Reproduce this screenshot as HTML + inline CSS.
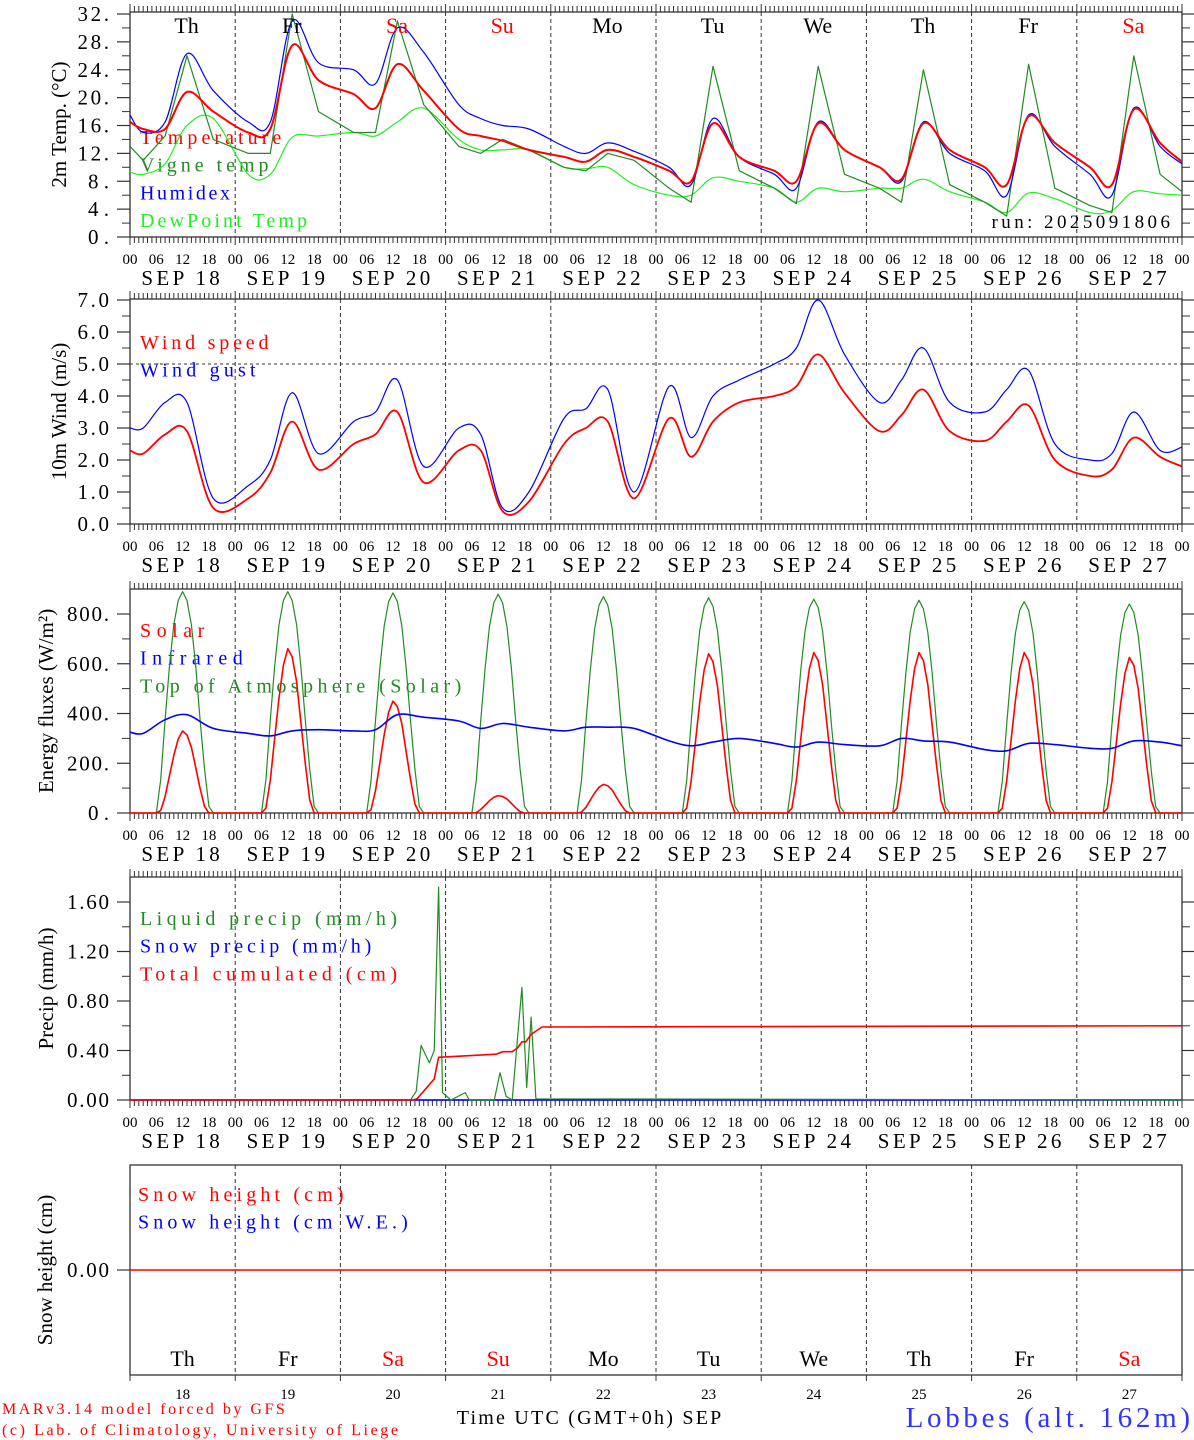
<!DOCTYPE html>
<html><head><meta charset="utf-8"><style>
html,body{margin:0;padding:0;background:#fff;}
svg{display:block;font-family:"Liberation Serif","DejaVu Serif",serif;}
</style></head><body>
<svg id="chart" width="1194" height="1440" viewBox="0 0 1194 1440" xmlns="http://www.w3.org/2000/svg"></svg>
<script>
// ---------- data ----------
const dayNames = ["Th","Fr","Sa","Su","Mo","Tu","We","Th","Fr","Sa"];
const dayColors = ["#000","#000","#f00","#f00","#000","#000","#000","#000","#000","#f00"];
const dates = ["18","19","20","21","22","23","24","25","26","27"];
const hourTicks = ["00","06","12","18"];
const sampleHours = [3,8,13,19];
// temperature panel (start value, 4 samples/day, end value)
const tempVals = [16.5, 15.5,15.5,20.8,18, 15,15.5,27.5,22.5, 20.5,18.5,24.8,21, 15.5,14.5,13.8,12.5, 11.5,10.8,12.5,11.5, 9.5,8,16.3,11.5, 9.5,8,16.3,12.5, 10,8.3,16.3,12.5, 10,7.5,17.3,13.5, 10,7.5,18.3,13.5, 10.8];
const humidexVals = [17.5, 15,16.5,26.3,21, 16.5,16.5,31,25, 24,22,30,26.5, 19,17,16,15.5, 13,12,13.5,12.3, 10,7.5,17,11.5, 9,7,16.5,12.5, 10,8,16.5,12, 9.5,6,17.5,13, 9,6,18.5,13, 10.5];
const vigneVals = [13, 11,14.5,26,14, 12,12,32,18, 15,15,31,19, 13,12,14,12.5, 10,9.5,12,11, 7,5,24.5,9.5, 7,4.8,24.5,9, 7,5,24,7.5, 5,3,24.8,7, 4.5,3.5,26,9, 6.5];
const dewVals = [9.3, 9,10.5,16,17, 9,9,14.3,14.5, 15,14.5,16.5,18.5, 14,12.5,12.5,12.5, 10,9.8,10,7.5, 6,6,8.5,8, 7,5,7,6.5, 7,7,8.3,6.5, 5,3.5,6.3,5.5, 3.5,3.8,6.5,6.2, 6];
// wind panel
const windVals = [2.3, 2.2,2.8,2.9,0.5, 0.8,1.6,3.2,1.7, 2.5,2.8,3.5,1.3, 2.3,2.3,0.4,0.7, 2.5,3.0,3.2,0.8, 3.3,2.1,3.2,3.8, 4.0,4.3,5.3,4.1, 2.9,3.4,4.2,2.9, 2.6,3.2,3.7,2.0, 1.5,1.7,2.7,2.1, 1.8];
const gustVals = [3.0, 3.0,3.8,3.8,0.8, 1.2,2.0,4.1,2.2, 3.2,3.5,4.5,1.8, 3.0,2.8,0.5,1.0, 3.3,3.6,4.2,1.0, 4.3,2.7,4.0,4.5, 5.0,5.5,7.0,5.3, 3.8,4.5,5.5,3.8, 3.5,4.2,4.8,2.5, 2.0,2.2,3.5,2.3, 2.4];
// energy panel
const toaPeaks = [890,890,885,880,870,865,860,855,850,840];
const solarPeaks = [330,660,450,70,115,640,645,645,645,625];
const dayProfileHours = [6,7,8,9,10,11,12,13,14,15,16,17,18,19];
const toaProfile = [0,0.15,0.42,0.66,0.85,0.96,1.0,0.96,0.85,0.66,0.42,0.2,0.03,0];
const solarProfile = [0,0.03,0.2,0.45,0.7,0.9,1.0,0.95,0.8,0.55,0.3,0.08,0,0];
const irVals = [325, 320,375,395,340, 320,310,330,335, 330,335,395,385, 370,340,360,345, 330,345,345,340, 290,270,285,300, 280,265,285,275, 270,300,290,285, 255,250,280,275, 260,260,290,285, 270];
// precip panel
const liquidHours = [0,64,65.3,66.4,68.3,69.4,70.4,71.3,73.2,76.5,77.4,83.1,84.4,85.8,87.2,89.4,90.5,91.5,92.6,240];
const liquidVals  = [0,0,0.07,0.44,0.30,0.40,1.72,0.06,0,0.06,0,0,0.22,0.03,0,0.91,0.10,0.67,0.01,0];
const cumHours = [0,64.5,65.5,69.4,70.4,83.5,85,87.2,88.4,89.4,90.3,91.5,94,240];
const cumVals  = [0,0,0.01,0.17,0.345,0.37,0.39,0.39,0.42,0.47,0.47,0.53,0.59,0.60];
// snow
const snowVals = [0,0];

// ---------- helpers ----------
const svg = document.getElementById('chart');
const NS = "http://www.w3.org/2000/svg";
const X0 = 130, X1 = 1182;
function xH(h){ return X0 + h*(X1-X0)/240; }
function mk(tag, attrs, parent){
  const e = document.createElementNS(NS, tag);
  for (const k in attrs) e.setAttribute(k, attrs[k]);
  (parent||svg).appendChild(e);
  return e;
}
function txt(s, x, y, size, fill, anchor, parent, cw){
  const t = mk('text', {x:x, y:y, 'font-size':size, fill:fill||'#000', 'text-anchor':anchor||'start'}, parent);
  t.textContent = s;
  if(cw){ t.setAttribute('textLength', (s.length*cw).toFixed(1)); t.setAttribute('lengthAdjust','spacing'); }
  return t;
}
function sampleTimes(){
  const t=[0];
  for(let d=0; d<10; d++) for(const h of sampleHours) t.push(d*24+h);
  t.push(240);
  return t;
}
const ST = sampleTimes();
function poly(times, vals, yf, color, width, name, parent, smooth){
  const P = times.map((h,i)=>[xH(h), yf(vals[i])]);
  let d;
  if(smooth){
    d = 'M'+P[0][0].toFixed(1)+','+P[0][1].toFixed(1);
    for(let i=0;i<P.length-1;i++){
      const p0=P[Math.max(0,i-1)], p1=P[i], p2=P[i+1], p3=P[Math.min(P.length-1,i+2)];
      const c1=[p1[0]+(p2[0]-p0[0])/6, p1[1]+(p2[1]-p0[1])/6];
      const c2=[p2[0]-(p3[0]-p1[0])/6, p2[1]-(p3[1]-p1[1])/6];
      d += ' C'+c1[0].toFixed(1)+','+c1[1].toFixed(1)+' '+c2[0].toFixed(1)+','+c2[1].toFixed(1)+' '+p2[0].toFixed(1)+','+p2[1].toFixed(1);
    }
  } else {
    d = 'M'+P.map(p=>p[0].toFixed(1)+','+p[1].toFixed(1)).join(' L');
  }
  const p = mk('path', {d:d, fill:'none', stroke:color, 'stroke-width':width, 'stroke-linejoin':'round'}, parent);
  
  
  return p;
}

function panel(cfg){
  const g = mk('g', {});
  
  
  const top = cfg.top, bot = cfg.bot;
  const yf = v => cfg.y0 - (v - cfg.vmin) * cfg.scale;
  mk('rect', {x:X0, y:top, width:X1-X0, height:bot-top, fill:'none', stroke:'#333', 'stroke-width':1.3}, g);
  for(let h=0; h<=240; h++){
    const x = xH(h).toFixed(1);
    const big = h%24===0;
    const len = cfg.noHourTicks ? (big?6:0) : (big?8:6);
    if(!len) continue;
    if(!cfg.noTopTicks) mk('line', {x1:x, y1:top, x2:x, y2:top-len, stroke:'#333', 'stroke-width':1}, g);
    mk('line', {x1:x, y1:bot, x2:x, y2:bot+len, stroke:'#333', 'stroke-width':1}, g);
  }
  for(let d=1; d<10; d++){
    const x = xH(d*24).toFixed(1);
    mk('line', {x1:x, y1:top, x2:x, y2:bot, stroke:'#333', 'stroke-width':1, 'stroke-dasharray':'4,3'}, g);
  }
  for(const v of cfg.minor){
    const y = yf(v).toFixed(1);
    mk('line', {x1:X0, y1:y, x2:X0-8, y2:y, stroke:'#333', 'stroke-width':1}, g);
    mk('line', {x1:X1, y1:y, x2:X1+8, y2:y, stroke:'#333', 'stroke-width':1}, g);
  }
  cfg.labels.forEach((v,i)=>{
    const y = yf(v);
    mk('line', {x1:X0, y1:y, x2:X0-13, y2:y, stroke:'#333', 'stroke-width':1.2}, g);
    mk('line', {x1:X1, y1:y, x2:X1+13, y2:y, stroke:'#333', 'stroke-width':1.2}, g);
    txt(cfg.labelText[i], 109, y+7, 21, '#000', 'end', g, 10.5);
  });
  const t = txt(cfg.title, 0, 0, 21, '#000', 'middle', g);
  t.setAttribute('transform', 'translate('+cfg.titleX+','+((top+bot)/2)+') rotate(-90)');
  
  
  if(cfg.xlabels){
    for(let d=0; d<10; d++){
      hourTicks.forEach((s,k)=>{
        txt(s, xH(d*24+k*6), bot+27, 15, '#000', 'middle', g);
      });
      txt('SEP  '+dates[d], xH(d*24+12)-2, bot+48, 21, '#000', 'middle', g, 11.2);
    }
    txt('00', xH(240), bot+27, 15, '#000', 'middle', g);
  }
  cfg.legend.forEach((l,i)=>{
    const e = txt(l[0], cfg.legX||140, cfg.legY + i*27.7, 20, l[1], 'start', g, 12.85);
    
    
  });
  return {g, yf};
}

// ---------- panel 1: temperature ----------
const p1 = panel({name:'temperature-panel', top:12, bot:237, y0:237, vmin:0, scale:(237-14)/32,
  minor:[2,6,10,14,18,22,26,30], labels:[0,4,8,12,16,20,24,28,32],
  labelText:["0.","4.","8.","12.","16.","20.","24.","28.","32."],
  title:"2m Temp. (°C)", titleX:66, xlabels:true,
  legend:[["Temperature","#f00"],["Vigne temp","#228b22"],["Humidex","#00f"],["DewPoint Temp","#2e2"]], legY:144});
{
  const clip = mk('clipPath', {id:'c1'}); mk('rect', {x:X0, y:12, width:X1-X0, height:225}, clip);
  const g = mk('g', {'clip-path':'url(#c1)'}, p1.g);
  poly(ST, dewVals, p1.yf, '#2e2', 1.2, 'dewpoint-line', g, true);
  poly(ST, vigneVals, p1.yf, '#228b22', 1.2, 'vigne-temp-line', g, false);
  poly(ST, humidexVals, p1.yf, '#00f', 1.2, 'humidex-line', g, true);
  poly(ST, tempVals, p1.yf, '#f00', 2, 'temperature-line', g, true);
  for(let d=0; d<10; d++){
    const e = txt(dayNames[d], xH(d*24+12)+4, 33, 22, dayColors[d], 'middle', p1.g);
    
    
  }
  const r = txt('run: 2025091806', 1170, 228, 19, '#000', 'end', p1.g, 11.9);
  
  
}

// ---------- panel 2: wind ----------
const p2 = panel({name:'wind-panel', top:299, bot:524, y0:524, vmin:0, scale:(524-300)/7,
  minor:[0.5,1.5,2.5,3.5,4.5,5.5,6.5], labels:[0,1,2,3,4,5,6,7],
  labelText:["0.0","1.0","2.0","3.0","4.0","5.0","6.0","7.0"],
  title:"10m Wind (m/s)", titleX:66, xlabels:true,
  legend:[["Wind speed","#f00"],["Wind gust","#00f"]], legY:349});
{
  const y5 = p2.yf(5);
  mk('line', {x1:X0, y1:y5, x2:X1, y2:y5, stroke:'#333', 'stroke-width':1, 'stroke-dasharray':'3,3'}, p2.g);
  poly(ST, gustVals, p2.yf, '#00f', 1.2, 'wind-gust-line', p2.g, true);
  poly(ST, windVals, p2.yf, '#f00', 1.8, 'wind-speed-line', p2.g, true);
}

// ---------- panel 3: energy ----------
const p3 = panel({name:'energy-panel', top:589, bot:813, y0:813, vmin:0, scale:(813-614)/800,
  minor:[100,300,500,700], labels:[0,200,400,600,800],
  labelText:["0.","200.","400.","600.","800."],
  title:"Energy fluxes (W/m²)", titleX:53, xlabels:true,
  legend:[["Solar","#f00"],["Infrared","#00f"],["Top of Atmosphere (Solar)","#228b22"]], legY:637});
{
  const th=[0], toa=[0], sol=[0];
  for(let d=0; d<10; d++){
    dayProfileHours.forEach((h,k)=>{ th.push(d*24+h); toa.push(toaPeaks[d]*toaProfile[k]); sol.push(solarPeaks[d]*solarProfile[k]); });
  }
  th.push(240); toa.push(0); sol.push(0);
  poly(th, toa, p3.yf, '#228b22', 1.2, 'toa-solar-line', p3.g, false);
  poly(th, sol, p3.yf, '#f00', 1.6, 'solar-line', p3.g, false);
  poly(ST, irVals, p3.yf, '#00f', 1.6, 'infrared-line', p3.g, true);
}

// ---------- panel 4: precip ----------
const p4 = panel({name:'precip-panel', top:877, bot:1100, y0:1100, vmin:0, scale:(1100-902)/1.6,
  minor:[0.2,0.6,1.0,1.4], labels:[0,0.4,0.8,1.2,1.6],
  labelText:["0.00","0.40","0.80","1.20","1.60"],
  title:"Precip (mm/h)", titleX:53, xlabels:true,
  legend:[["Liquid precip (mm/h)","#228b22"],["Snow precip (mm/h)","#00f"],["Total cumulated (cm)","#f00"]], legY:925});
{
  poly([0,240], [0,0], p4.yf, '#00f', 1.6, 'snow-precip-line', p4.g, false);
  poly(liquidHours, liquidVals, p4.yf, '#228b22', 1.2, 'liquid-precip-line', p4.g, false);
  poly(cumHours, cumVals, p4.yf, '#f00', 1.6, 'cumulated-precip-line', p4.g, false);
}

// ---------- panel 5: snow ----------
const p5 = panel({name:'snow-panel', top:1165, bot:1375, y0:1270, vmin:0, scale:100,
  minor:[], labels:[0], labelText:["0.00"], noHourTicks:true, noTopTicks:true,
  title:"Snow height (cm)", titleX:52, xlabels:false,
  legend:[["Snow height (cm)","#f00"],["Snow height (cm W.E.)","#00f"]], legY:1201, legX:138});
{
  poly([0,240], snowVals, p5.yf, '#f00', 1.6, 'snow-height-line', p5.g, false);
  for(let d=0; d<10; d++){
    const e = txt(dayNames[d], xH(d*24+12), 1366, 22, dayColors[d], 'middle', p5.g);
    
    
    txt(dates[d], xH(d*24+12), 1399, 15, '#000', 'middle', p5.g);
  }
  const t = txt('Time UTC (GMT+0h) SEP', 589, 1424, 20, '#000', 'middle', null, 12.6);
  
  
  const a = txt('MARv3.14 model forced by GFS', 2, 1414, 16, '#f00', 'start', null, 10.1);
  
  
  const b = txt('(c) Lab. of Climatology, University of Liege', 2, 1435, 16, '#f00', 'start', null, 9.0);
  
  
  const c = txt('Lobbes (alt. 162m)', 1190, 1427, 29, '#33f', 'end', null, 15.8);
  
  
}
</script>
</body></html>
